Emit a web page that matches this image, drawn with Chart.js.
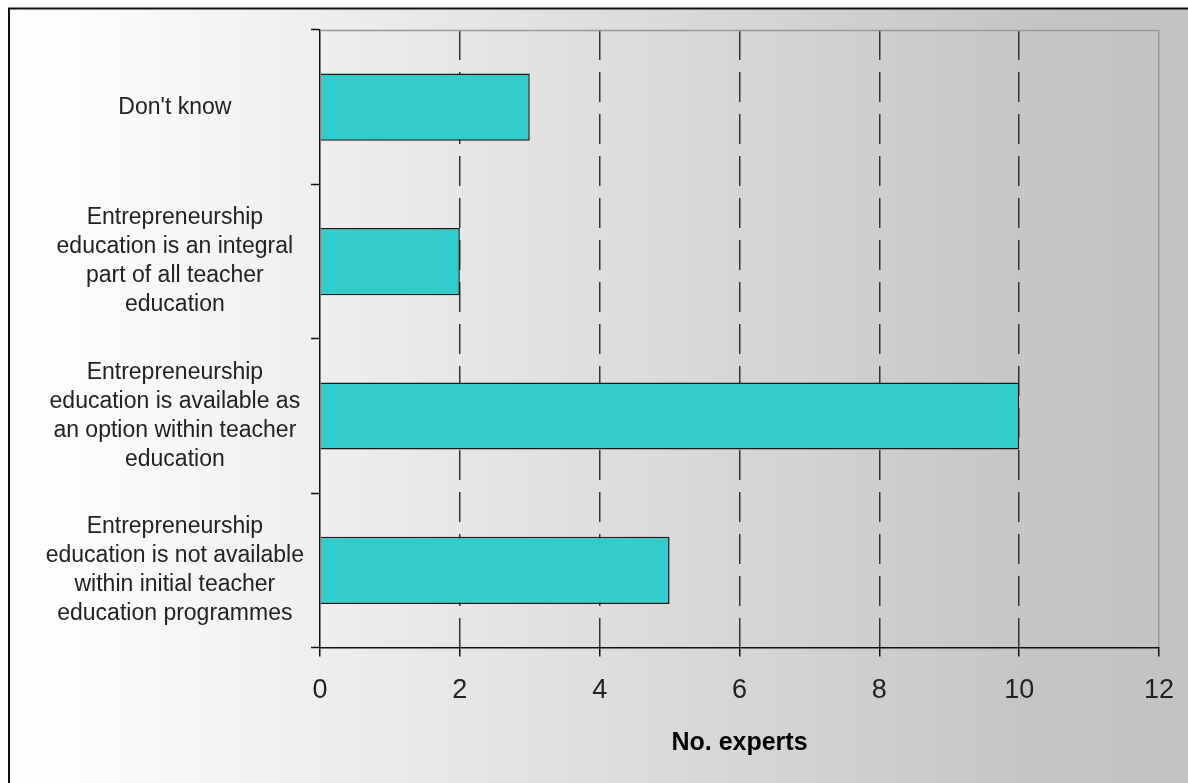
<!DOCTYPE html>
<html>
<head>
<meta charset="utf-8">
<script src="https://cdn.jsdelivr.net/npm/chart.js@4"></script>
<style>
  html, body { margin: 0; padding: 0; background: #fff; }
  #wrap { width: 1188px; height: 783px; }
</style>
</head>
<body>
<div id="wrap"><canvas id="c" width="1188" height="783"></canvas></div>
<script>
const categories = [
  ["Don't know"],
  ["Entrepreneurship", "education is an integral", "part of all teacher", "education"],
  ["Entrepreneurship", "education is available as", "an option within teacher", "education"],
  ["Entrepreneurship", "education is not available", "within initial teacher", "education programmes"]
];
const expertCounts = [3, 2, 10, 5];
const xTickValues = [0, 2, 4, 6, 8, 10, 12];
const xAxisTitle = "No. experts";

const FONT = "'Liberation Sans', Arial, Helvetica, sans-serif";

const bgPlugin = {
  id: 'bg',
  beforeDraw(chart) {
    const ctx = chart.ctx, w = chart.width, h = chart.height;
    ctx.save();
    ctx.fillStyle = '#ffffff';
    ctx.fillRect(0, 0, w, h);
    const g = ctx.createLinearGradient(8, 0, w, 0);
    g.addColorStop(0, '#ffffff');
    g.addColorStop(60 / w, '#fdfdfd');
    g.addColorStop(1050 / w, '#c4c4c4');
    g.addColorStop(1, '#c3c3c3');
    ctx.fillStyle = g;
    ctx.fillRect(8, 8, w - 8, h - 8);
    ctx.strokeStyle = '#111';
    ctx.lineWidth = 2;
    ctx.beginPath();
    ctx.moveTo(9, h);
    ctx.lineTo(9, 8.5);
    ctx.lineTo(w, 8.5);
    ctx.stroke();
    ctx.restore();
  },
  afterDraw(chart) {
    const ctx = chart.ctx, a = chart.chartArea;
    ctx.save();
    ctx.strokeStyle = '#999';
    ctx.lineWidth = 1.5;
    ctx.beginPath();
    ctx.moveTo(a.left, a.top + 0.5);
    ctx.lineTo(a.right, a.top + 0.5);
    ctx.stroke();
    ctx.restore();
  }
};

new Chart(document.getElementById('c'), {
  type: 'bar',
  data: {
    labels: categories,
    datasets: [{
      data: expertCounts,
      backgroundColor: '#33CCCC',
      borderColor: '#1a1a1a',
      borderWidth: 1.5,
      barPercentage: 0.435,
      categoryPercentage: 1.0
    }]
  },
  options: {
    indexAxis: 'y',
    responsive: false,
    animation: false,
    devicePixelRatio: 1,
    layout: { padding: { left: 0, top: 30, right: 29, bottom: 25 } },
    plugins: {
      legend: { display: false },
      tooltip: { enabled: false }
    },
    scales: {
      x: {
        min: 0,
        max: 12,
        afterBuildTicks(scale) { scale.ticks = xTickValues.map(v => ({ value: v })); },
        afterFit(scale) {
          scale.paddingLeft = 0;
          scale.paddingRight = 0;
        },
        grid: {
          drawOnChartArea: true,
          color: (ctx) => {
            const v = ctx.tick ? ctx.tick.value : null;
            if (v === 0) return 'rgba(0,0,0,0)';
            if (v === 12) return '#999';
            return '#333';
          },
          lineWidth: 1.5,
          tickColor: '#111',
          tickLength: 9,
          tickWidth: 1.5
        },
        border: {
          display: true,
          color: '#111',
          width: 1.5,
          dash: (ctx) => (ctx.tick && ctx.tick.value === 12) ? [] : [30, 12]
        },
        ticks: {
          color: '#222',
          font: { family: FONT, size: 27 },
          padding: 18,
          maxRotation: 0
        },
        title: {
          display: true,
          text: xAxisTitle,
          color: '#000',
          font: { family: FONT, size: 25, weight: 'bold' },
          padding: { top: 3, bottom: 0 }
        }
      },
      y: {
        afterFit(scale) {
          scale.width = 320;
          scale.paddingTop = 0;
          scale.paddingBottom = 0;
        },
        grid: {
          drawOnChartArea: false,
          offset: true,
          tickLength: 9,
          tickColor: '#111',
          tickWidth: 1.5
        },
        border: { display: true, color: '#111', width: 1.5 },
        ticks: {
          color: '#222',
          crossAlign: 'center',
          padding: 7,
          font: { family: FONT, size: 23, lineHeight: 1.26 }
        }
      }
    }
  },
  plugins: [bgPlugin]
});
</script>
</body>
</html>
